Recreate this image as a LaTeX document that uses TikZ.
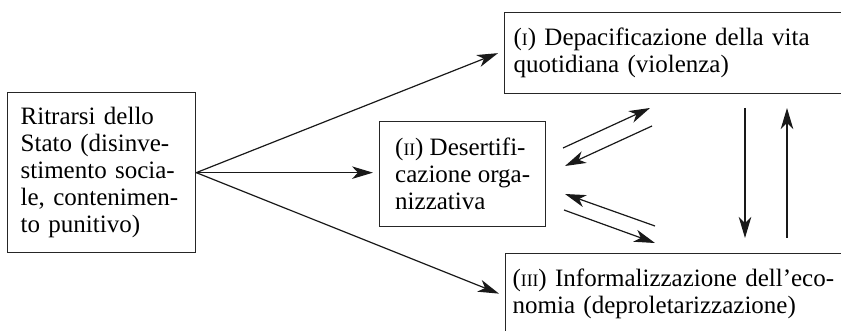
\documentclass[tikz,border=0pt]{standalone}
\usepackage{fontspec}
\setmainfont{Liberation Serif}
\usetikzlibrary{arrows.meta}
% small roman numerals standing in for small caps
\newcommand\romsc[1]{{\fontsize{17.5}{17.5}\selectfont #1}}
\begin{document}
\begin{tikzpicture}[x=1pt,y=-1pt,
  box/.style={draw=black!85, line width=1.3pt, rectangle, align=left,
    font=\fontsize{25}{27}\selectfont, inner ysep=0pt},
  link/.style={line width=1.2pt, draw=black!90,
    -{Stealth[length=21pt,width=12.5pt,inset=6pt]}}]
\useasboundingbox (0,0) rectangle (841,331);
\clip (0,0) rectangle (841,331);

% boxes
\node[box, anchor=north west, minimum height=160pt, text width=162pt,
  inner xsep=13pt] (state) at (7,92)
  {Ritrarsi dello\\Stato (disinve-\\stimento socia-\\le, contenimen-\\to punitivo)};
\node[box, anchor=north west, minimum height=105pt, minimum width=166pt]
  (desert) at (379,121)
  {(\romsc{II}) Desertifi-\\cazione orga-\\nizzativa};
\node[box, anchor=north west, minimum height=81pt, text width=400pt,
  inner xsep=9pt] (violence) at (504,12)
  {(\romsc{I}) Depacificazione della vita\\quotidiana (violenza)};
\node[box, anchor=north west, minimum height=80pt, text width=400pt,
  inner xsep=7pt] (informal) at (505,253)
  {(\romsc{III}) Informalizzazione dell’eco-\\nomia (deproletarizzazione)};

% arrows out of the state box
\draw[link] (state.east) -- ([xshift=-6pt]violence.west);
\draw[link] (state.east) -- ([xshift=-6pt]desert.west |- state.east);
\draw[link] (state.east) -- ([xshift=-6pt]informal.west);

% feedback arrows between (II) and the two right-hand boxes
\coordinate (ua) at (563,148); \coordinate (ub) at (650,108);
\coordinate (va) at (652,126); \coordinate (vb) at (565,166);
\coordinate (wa) at (655,226); \coordinate (wb) at (565,194);
\coordinate (xa) at (564,210); \coordinate (xb) at (655,243);
\draw[link] (ua) -- (ub);
\draw[link] (va) -- (vb);
\draw[link] (wa) -- (wb);
\draw[link] (xa) -- (xb);

% arrows between (I) and (III)
\coordinate (da) at (745,108); \coordinate (db) at (745,238);
\coordinate (ea) at (787,238); \coordinate (eb) at (787,108);
\draw[link] (da) -- (db);
\draw[link] (ea) -- (eb);
\end{tikzpicture}
\end{document}
